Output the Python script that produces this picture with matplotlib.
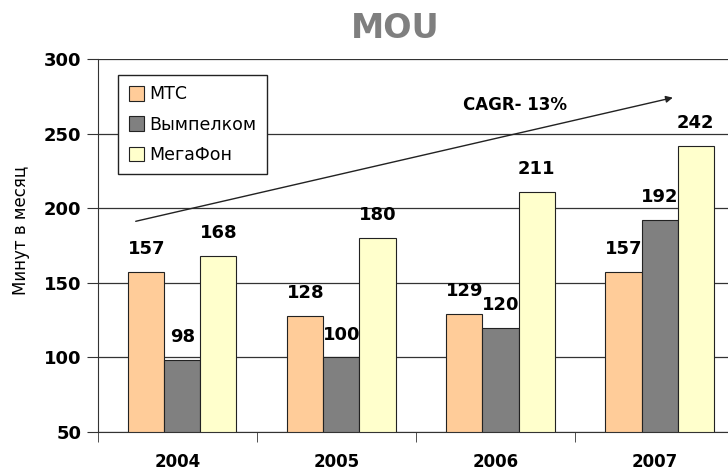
import numpy as np
import matplotlib
matplotlib.use("Agg")
import matplotlib.pyplot as plt
from matplotlib.patches import Patch

years = ["2004", "2005", "2006", "2007"]
series = ["МТС", "Вымпелком", "МегаФон"]
mts = [157, 128, 129, 157]
vympelcom = [98, 100, 120, 192]
megafon = [168, 180, 211, 242]
colors = ["#FFCC99", "#808080", "#FFFFCC"]
y_ticks = [50, 100, 150, 200, 250, 300]
cagr_label = "CAGR- 13%"

fig = plt.figure(figsize=(7.28, 4.73), dpi=100)
ax = fig.add_axes([98 / 728, 1 - 432 / 473, 1 - 98 / 728, (432 - 59) / 473])

x = np.arange(len(years))
w = 0.227
for i, (vals, col) in enumerate(zip([mts, vympelcom, megafon], colors)):
    pos = x + (i - 1) * w + 0.03
    ax.bar(pos, [v - 50 for v in vals], w, bottom=50, color=col,
           edgecolor="#222222", linewidth=0.8, zorder=3)
    for xp, v in zip(pos, vals):
        ax.annotate(str(v), (xp, v), xytext=(0, 10), textcoords="offset points",
                    ha="center", va="bottom", fontsize=13, fontweight="bold",
                    zorder=5)

ax.set_ylim(50, 300)
ax.set_xlim(-0.5, 3.46)
ax.set_yticks(y_ticks)
ax.set_yticklabels([str(t) for t in y_ticks], fontsize=13, fontweight="bold")
ax.yaxis.grid(True, color="#333333", linewidth=0.9, zorder=0)
ax.set_axisbelow(True)

ax.set_xticks(x)
ax.set_xticklabels(years, fontsize=12, fontweight="bold")
ax.tick_params(axis="x", length=0, pad=15)
ax.set_xticks([-0.5, 0.5, 1.5, 2.5], minor=True)
ax.tick_params(axis="x", which="minor", length=7, direction="out", color="#333333")
ax.tick_params(axis="y", length=8, direction="out", color="#333333", pad=4)

for s in ["top", "right"]:
    ax.spines[s].set_visible(False)
ax.spines["left"].set_color("#333333")
ax.spines["bottom"].set_color("#333333")

ax.set_ylabel("Минут в месяц", fontsize=12)
ax.yaxis.set_label_coords(-0.108, 0.54)

ax.annotate("", xy=(3.13, 274.5), xytext=(-0.28, 190.8),
            arrowprops=dict(arrowstyle="-|>", color="#222222", lw=1,
                            mutation_scale=10), zorder=4)
ax.text(2.12, 269.5, cagr_label, ha="center", va="center", fontsize=12,
        fontweight="bold", zorder=5)

handles = [Patch(facecolor=c, edgecolor="#222222", linewidth=0.8) for c in colors]
leg = ax.legend(handles, series, loc="upper left", bbox_to_anchor=(0.032, 0.957),
                borderaxespad=0, fontsize=12.5, fancybox=False, edgecolor="#222222",
                framealpha=1, labelspacing=0.7, handlelength=0.9,
                handleheight=0.9, handletextpad=0.3, borderpad=0.6)
leg.get_frame().set_linewidth(1)

fig.text(0.543, 0.94, "MOU", ha="center", va="center", fontsize=24,
         fontweight="bold", color="#7f7f7f")

fig.savefig("out.png", dpi=100)
